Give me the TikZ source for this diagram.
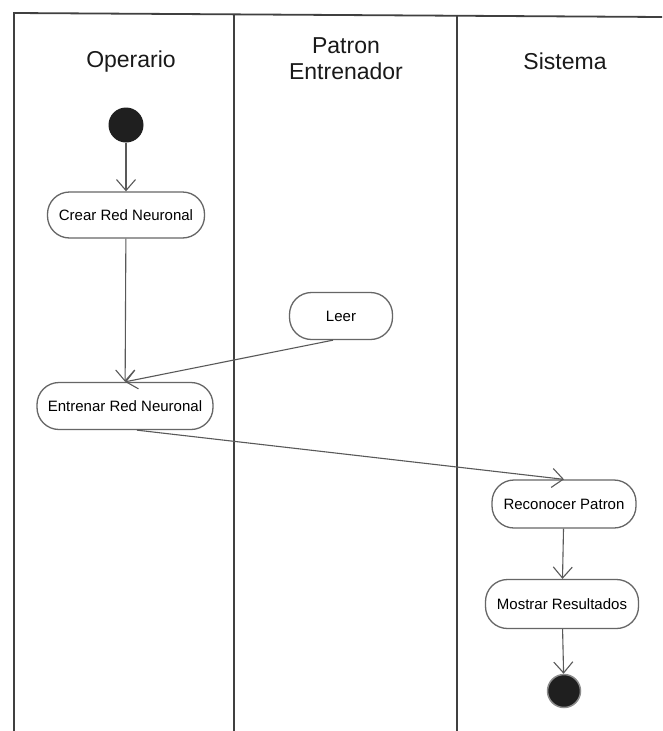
\documentclass[tikz,border=0pt]{standalone}
\usepackage{fontspec}
\setmainfont{Liberation Sans}
\usetikzlibrary{arrows.meta}
\begin{document}
\begin{tikzpicture}[x=1pt,y=-1pt,
  lane/.style={draw=black!75,line width=1.8pt},
  lanetitle/.style={font=\fontsize{23}{26}\selectfont,align=center,text=black!90},
  activity/.style={draw=black!60,line width=1.3pt,rounded corners=22pt,minimum height=46pt,
    font=\fontsize{15}{18}\selectfont,text=black,inner sep=0pt},
  initial/.style={circle,fill=black!88,minimum size=35pt,inner sep=0pt},
  final/.style={circle,fill=black!88,draw=black!45,line width=1.5pt,minimum size=33pt,inner sep=0pt},
  flow/.style={draw=black!65,line width=1.1pt,-{Straight Barb[length=11pt,width=19pt,line width=1.1pt]}}]
\useasboundingbox (0,0) rectangle (662,731);
\fill[white] (0,0) rectangle (662,731);

% swimlane frame
\draw[lane] (14,731) -- (14,13) -- (662,17);
\draw[lane] (234,15) -- (234,731);
\draw[lane] (457,16) -- (457,731);

% lane headings
\node[lanetitle] (hOp) at (131,61.5) {Operario};
\node[lanetitle] (hPat) at (346,59) {Patron\\Entrenador};
\node[lanetitle] (hSis) at (565,61) {Sistema};

% nodes
\node[initial] (start) at (126,125) {};
\node[activity,minimum width=157pt] (crear) at (126,215) {Crear Red Neuronal};
\node[activity,minimum width=103pt,minimum height=47pt] (leer) at (341,316) {Leer};
\node[activity,minimum width=176pt,minimum height=47pt] (entrenar) at (125,406) {Entrenar Red Neuronal};
\node[activity,minimum width=144pt,minimum height=48pt] (reconocer) at (564,504) {Reconocer Patron};
\node[activity,minimum width=153pt,minimum height=49pt] (mostrar) at (562,604) {Mostrar Resultados};
\node[final] (fin) at (564,691) {};

% control flows
\draw[flow] (start) -- (crear);
\draw[flow] (crear) -- (entrenar);
\draw[flow] ([xshift=-8pt]leer.south) -- (entrenar.north);
\draw[flow] ([xshift=12pt]entrenar.south) -- (reconocer.north);
\draw[flow] (reconocer) -- (mostrar);
\draw[flow] (mostrar) -- (fin);
\end{tikzpicture}
\end{document}
